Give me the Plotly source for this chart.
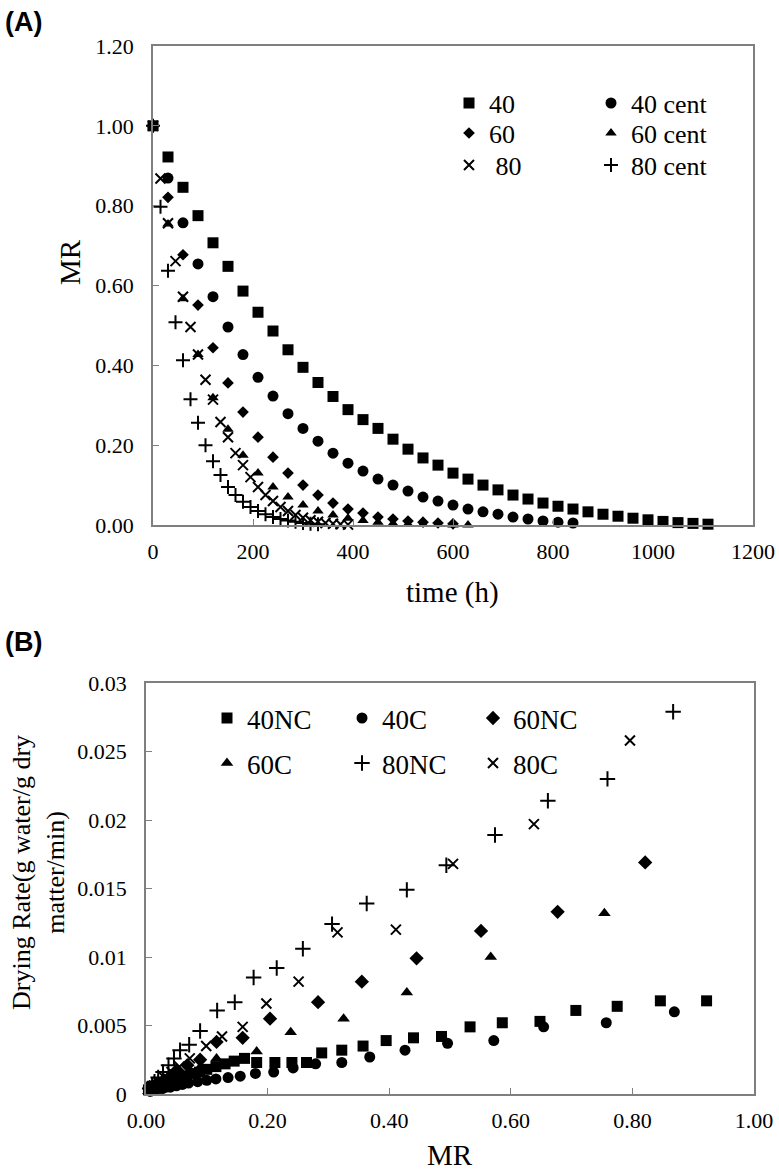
import plotly.graph_objects as go

W, H = 779, 1173

# ---------------- Panel A data (time vs MR) ----------------
t_40 = [0, 30, 60, 90, 120, 150, 180, 210, 240, 270, 300, 330, 360, 390, 420, 450, 480, 510, 540,
        570, 600, 630, 660, 690, 720, 750, 780, 810, 840, 870, 900, 930, 960, 990, 1020, 1050, 1080, 1110]
mr_40 = [1.00, 0.922, 0.846, 0.775, 0.707, 0.648, 0.586, 0.533, 0.486, 0.439, 0.395, 0.357, 0.322, 0.289,
         0.264, 0.242, 0.215, 0.190, 0.168, 0.150, 0.130, 0.115, 0.100, 0.088, 0.075, 0.065, 0.055, 0.047,
         0.040, 0.033, 0.027, 0.022, 0.017, 0.013, 0.009, 0.006, 0.004, 0.002]

t_40c = [0, 30, 60, 90, 120, 150, 180, 210, 240, 270, 300, 330, 360, 390, 420, 450, 480, 510, 540,
         570, 600, 630, 660, 690, 720, 750, 780, 810, 840]
mr_40c = [1.00, 0.869, 0.757, 0.654, 0.572, 0.496, 0.427, 0.370, 0.323, 0.279, 0.242, 0.210, 0.180, 0.155,
          0.135, 0.115, 0.100, 0.085, 0.070, 0.060, 0.050, 0.040, 0.033, 0.027, 0.020, 0.015, 0.010, 0.007, 0.005]

t_60 = [0, 30, 60, 90, 120, 150, 180, 210, 240, 270, 300, 330, 360, 390, 420, 450, 480, 510, 540, 570, 600]
mr_60 = [1.00, 0.821, 0.677, 0.551, 0.444, 0.356, 0.283, 0.220, 0.170, 0.130, 0.100, 0.075, 0.055, 0.040,
         0.030, 0.020, 0.015, 0.010, 0.007, 0.005, 0.003]

t_60c = [0, 30, 60, 90, 120, 150, 180, 210, 240, 270, 300, 330, 360, 390, 420, 450, 480, 510, 540, 570, 600, 630]
mr_60c = [1.00, 0.754, 0.567, 0.427, 0.319, 0.240, 0.175, 0.130, 0.095, 0.070, 0.050, 0.035, 0.025, 0.017,
          0.011, 0.007, 0.004, 0.002, 0.001, 0.001, 0.000, 0.000]

t_80 = [0, 15, 30, 45, 60, 75, 90, 105, 120, 135, 150, 165, 180, 195, 210, 225, 240, 255, 270, 285,
        300, 315, 330, 345, 360, 375, 390]
mr_80 = [1.00, 0.868, 0.756, 0.661, 0.572, 0.496, 0.427, 0.364, 0.314, 0.258, 0.220, 0.180, 0.150, 0.120,
         0.095, 0.075, 0.060, 0.045, 0.035, 0.025, 0.018, 0.012, 0.008, 0.005, 0.003, 0.002, 0.001]

t_80c = [0, 15, 30, 45, 60, 75, 90, 105, 120, 135, 150, 165, 180, 195, 210, 225, 240, 255, 270, 285, 300, 315, 330]
mr_80c = [1.00, 0.797, 0.637, 0.508, 0.413, 0.315, 0.256, 0.200, 0.160, 0.125, 0.095, 0.075, 0.058, 0.045,
          0.035, 0.027, 0.020, 0.015, 0.011, 0.008, 0.005, 0.003, 0.002]

# ---------------- Panel B data (MR vs drying rate) ----------------
mrB_40nc = [0.922, 0.846, 0.775, 0.707, 0.648, 0.586, 0.533, 0.486, 0.440, 0.395, 0.357, 0.322, 0.289, 0.264,
            0.240, 0.212, 0.182, 0.162, 0.145, 0.130, 0.115, 0.100, 0.088, 0.075, 0.065, 0.055, 0.047, 0.040,
            0.033, 0.027, 0.022, 0.017, 0.013, 0.009, 0.006, 0.004]
dr_40nc = [0.0068, 0.0068, 0.0064, 0.0061, 0.0053, 0.0052, 0.0049, 0.0042, 0.0041, 0.0039, 0.0035, 0.0032,
           0.0030, 0.0023, 0.0023, 0.0023, 0.0023, 0.0026, 0.0024, 0.0022, 0.0020, 0.0018, 0.0016, 0.0015,
           0.0013, 0.0012, 0.0011, 0.0010, 0.0009, 0.0008, 0.0007, 0.0006, 0.0005, 0.0005, 0.0004, 0.0003]

mrB_40c = [0.869, 0.757, 0.654, 0.572, 0.496, 0.426, 0.368, 0.322, 0.279, 0.242, 0.210, 0.180, 0.155, 0.135,
           0.115, 0.100, 0.085, 0.070, 0.060, 0.050, 0.040, 0.033, 0.027, 0.020, 0.015, 0.010, 0.007]
dr_40c = [0.0060, 0.0052, 0.0049, 0.0039, 0.0037, 0.0032, 0.0027, 0.0023, 0.0022, 0.0019, 0.0016, 0.0015,
          0.0013, 0.0012, 0.0011, 0.0010, 0.0009, 0.0008, 0.0007, 0.0006, 0.0005, 0.0005, 0.0004, 0.0004,
          0.0003, 0.0003, 0.0002]

mrB_60nc = [0.821, 0.677, 0.551, 0.445, 0.355, 0.283, 0.204, 0.159, 0.116, 0.089, 0.068, 0.050, 0.040,
            0.030, 0.020, 0.015, 0.010, 0.007]
dr_60nc = [0.0169, 0.0133, 0.0119, 0.0099, 0.0082, 0.0067, 0.0055, 0.0041, 0.0038, 0.0025, 0.0021, 0.0017,
           0.0013, 0.0010, 0.0008, 0.0006, 0.0004, 0.0003]

mrB_60c = [0.754, 0.567, 0.429, 0.325, 0.238, 0.182, 0.116, 0.090, 0.070, 0.050, 0.035, 0.025, 0.017,
           0.011, 0.007, 0.004]
dr_60c = [0.0132, 0.0100, 0.0074, 0.0055, 0.0045, 0.0031, 0.0026, 0.0020, 0.0016, 0.0012, 0.0009, 0.0007,
          0.0005, 0.0004, 0.0003, 0.0002]

mrB_80nc = [0.867, 0.759, 0.661, 0.574, 0.494, 0.429, 0.363, 0.306, 0.258, 0.215, 0.177, 0.146, 0.117,
            0.089, 0.071, 0.056, 0.046, 0.037, 0.028, 0.020, 0.014, 0.010, 0.006]
dr_80nc = [0.0279, 0.0230, 0.0214, 0.0189, 0.0167, 0.0149, 0.0139, 0.0124, 0.0106, 0.0092, 0.0085, 0.0067,
           0.0061, 0.0046, 0.0036, 0.0032, 0.0026, 0.0021, 0.0016, 0.0012, 0.0009, 0.0006, 0.0004]

mrB_80c = [0.796, 0.638, 0.505, 0.411, 0.315, 0.251, 0.198, 0.159, 0.125, 0.099, 0.072, 0.055, 0.042,
           0.030, 0.020, 0.013, 0.008]
dr_80c = [0.0258, 0.0197, 0.0168, 0.0120, 0.0118, 0.0082, 0.0066, 0.0049, 0.0042, 0.0035, 0.0026, 0.0020,
          0.0016, 0.0012, 0.0009, 0.0006, 0.0004]

# tick values
xticks_A = [0, 200, 400, 600, 800, 1000, 1200]
yticks_A = [0.0, 0.2, 0.4, 0.6, 0.8, 1.0, 1.2]
xticks_B = [0.0, 0.2, 0.4, 0.6, 0.8, 1.0]
yticks_B = [0, 0.005, 0.01, 0.015, 0.02, 0.025, 0.03]


def px(x):
    return x / W


def py(y):
    return 1 - y / H


SERIF = "Liberation Serif"

fig = go.Figure()

# style specs: (symbol, size, line width)
sty = {
    "square": ("square", 11, 0),
    "circle": ("circle", 11, 0),
    "diamond": ("diamond", 9, 0),
    "triangle": ("triangle-up", 10, 0),
    "x": ("x-thin", 10, 2),
    "plus": ("cross-thin", 10, 2),
}
styB = {
    "square": ("square", 11, 0),
    "circle": ("circle", 11, 0),
    "diamond": ("diamond", 11, 0),
    "triangle": ("triangle-up", 11, 0),
    "x": ("x-thin", 10, 2),
    "plus": ("cross-thin", 11, 2),
}


def add(x, y, name, key, styles, xa, ya, leg):
    sym, size, lw = styles[key]
    fig.add_trace(go.Scatter(
        x=x, y=y, name=name, mode="markers", xaxis=xa, yaxis=ya, legend=leg,
        cliponaxis=False, showlegend=True,
        marker=dict(symbol=sym, size=size, color="black",
                    line=dict(width=lw, color="black")),
    ))


# Panel A
add(t_40, mr_40, "40", "square", sty, "x", "y", "legend")
add(t_40c, mr_40c, "40 cent", "circle", sty, "x", "y", "legend2")
add(t_60, mr_60, "60", "diamond", sty, "x", "y", "legend3")
add(t_60c, mr_60c, "60 cent", "triangle", sty, "x", "y", "legend4")
add(t_80, mr_80, " 80", "x", sty, "x", "y", "legend5")
add(t_80c, mr_80c, "80 cent", "plus", sty, "x", "y", "legend6")

# Panel B
add(mrB_40nc, dr_40nc, "40NC", "square", styB, "x2", "y2", "legend7")
add(mrB_40c, dr_40c, "40C", "circle", styB, "x2", "y2", "legend8")
add(mrB_60nc, dr_60nc, "60NC", "diamond", styB, "x2", "y2", "legend9")
add(mrB_60c, dr_60c, "60C", "triangle", styB, "x2", "y2", "legend10")
add(mrB_80nc, dr_80nc, "80NC", "plus", styB, "x2", "y2", "legend11")
add(mrB_80c, dr_80c, "80C", "x", styB, "x2", "y2", "legend12")

axis_common = dict(
    showline=True, linecolor="#7f7f7f", linewidth=1.5, mirror=True,
    ticks="inside", ticklen=6, tickcolor="#7f7f7f", tickwidth=1.2,
    showgrid=False, zeroline=False,
    tickfont=dict(family=SERIF, size=22, color="black"),
)


# legend placement helper (each entry its own legend)
def leg(xm, ym, fs):
    h = 1.3 * fs + 3
    top = ym - (h / 2 + 5)
    return dict(x=px(xm - 20), y=py(top), xanchor="left", yanchor="top",
                bgcolor="rgba(0,0,0,0)", borderwidth=0, visible=True,
                font=dict(family=SERIF, size=fs, color="black"))


fsA, fsB = 26, 27
layout = dict(
    width=W, height=H, margin=dict(l=0, r=0, t=0, b=0, autoexpand=False),
    paper_bgcolor="white", plot_bgcolor="white", showlegend=True,
    font=dict(family=SERIF, color="black"),
    xaxis=dict(domain=[px(153), px(753)], range=[0, 1200], tickvals=xticks_A,
               anchor="y", ticklabelstandoff=6, **axis_common),
    yaxis=dict(domain=[py(525), py(46)], range=[0, 1.2], tickvals=yticks_A, tickformat=".2f",
               anchor="x", ticklabelstandoff=13, **axis_common),
    xaxis2=dict(domain=[px(146), px(754)], range=[0, 1.0], tickvals=xticks_B, tickformat=".2f",
                anchor="y2", ticklabelstandoff=6, **axis_common),
    yaxis2=dict(domain=[py(1094), py(683)], range=[0, 0.03], tickvals=yticks_B,
                anchor="x2", ticklabelstandoff=13, **axis_common),
    legend=leg(469, 103, fsA),
    legend2=leg(611, 103, fsA),
    legend3=leg(469, 133, fsA),
    legend4=leg(611, 133, fsA),
    legend5=leg(469, 165, fsA),
    legend6=leg(611, 165, fsA),
    legend7=leg(227, 718, fsB),
    legend8=leg(362, 718, fsB),
    legend9=leg(493, 718, fsB),
    legend10=leg(227, 763, fsB),
    legend11=leg(362, 763, fsB),
    legend12=leg(493, 763, fsB),
)
fig.update_layout(**layout)

ann = [
    dict(text="<b>(A)</b>", x=px(3), y=py(22), xanchor="left", yanchor="middle",
         font=dict(family="Liberation Sans", size=27, color="black")),
    dict(text="<b>(B)</b>", x=px(3), y=py(642), xanchor="left", yanchor="middle",
         font=dict(family="Liberation Sans", size=27, color="black")),
    dict(text="MR", x=px(70), y=py(262), textangle=-90, xanchor="center", yanchor="middle",
         font=dict(family=SERIF, size=29, color="black")),
    dict(text="time (h)", x=px(453), y=py(592), xanchor="center", yanchor="middle",
         font=dict(family=SERIF, size=29, color="black")),
    dict(text="Drying Rate(g water/g dry<br>matter/min)", x=px(38), y=py(873), textangle=-90,
         xanchor="center", yanchor="middle",
         font=dict(family=SERIF, size=26, color="black")),
    dict(text="MR", x=px(450), y=py(1155), xanchor="center", yanchor="middle",
         font=dict(family=SERIF, size=29, color="black")),
]
for a in ann:
    a.update(xref="paper", yref="paper", showarrow=False)
fig.update_layout(annotations=ann)

fig.write_html(
    "out.html",
    config={"displayModeBar": False},
    post_script="document.body.style.margin='0px';document.body.style.overflow='hidden';",
)
